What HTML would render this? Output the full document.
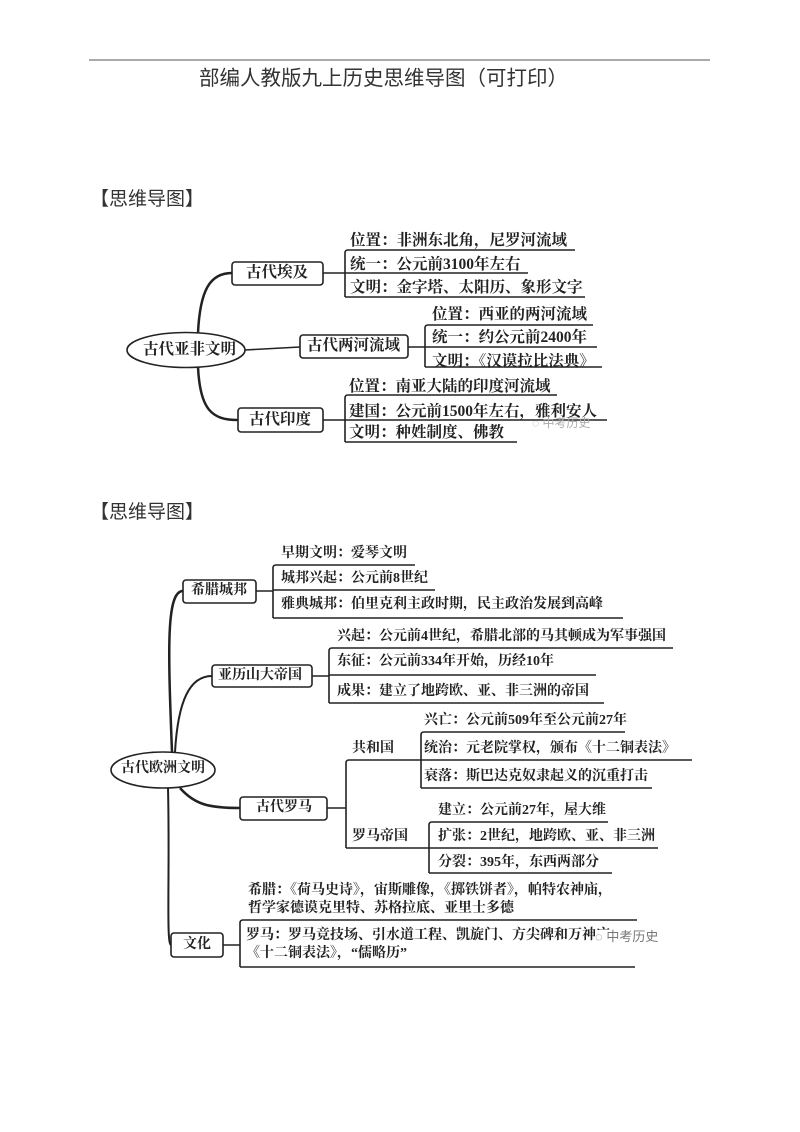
<!DOCTYPE html>
<html><head><meta charset="utf-8"><style>
body{margin:0;background:#fff;}
#p{position:relative;width:800px;height:1132px;overflow:hidden;font-family:"Liberation Serif","Noto Serif CJK SC",serif;color:#222;}
.t{position:absolute;white-space:nowrap;line-height:1;}
.a{font-size:15.5px;font-weight:bold;}
.b{font-size:14px;font-weight:bold;}
.h{font-family:"Liberation Sans","Noto Sans CJK SC",sans-serif;color:#333;}
svg{position:absolute;left:0;top:0;}
</style></head><body><div id="p">
<svg width="800" height="1132" fill="none" stroke="#222" stroke-width="1.6">
<line x1="89" y1="60" x2="710" y2="60" stroke="#555" stroke-width="1"/>
<ellipse cx="186" cy="350" rx="59" ry="17.5"/>
<rect x="232" y="262" width="91" height="23" rx="3"/>
<rect x="300" y="335" width="108" height="23" rx="3"/>
<rect x="238" y="408" width="85" height="24" rx="3"/>
<path d="M198 333 C200 290,210 273,232 273" stroke-width="2.5"/>
<path d="M198 367 C200 410,212 420,238 420" stroke-width="2.5"/>
<line x1="245" y1="350" x2="300" y2="347"/>
<line x1="323" y1="273" x2="345" y2="273"/>
<path d="M345 297 L345 253 Q345 250 348 250 L575 250"/>
<line x1="345" y1="273" x2="528" y2="273"/><line x1="345" y1="297" x2="585" y2="297"/>
<line x1="408" y1="347" x2="425" y2="347"/>
<path d="M425 367 L425 328 Q425 325 428 325 L593 325"/>
<line x1="425" y1="347" x2="597" y2="347"/><line x1="425" y1="367" x2="602" y2="367"/>
<line x1="323" y1="420" x2="345" y2="420"/>
<path d="M345 442 L345 398 Q345 395 348 395 L557 395"/>
<line x1="345" y1="420" x2="607" y2="420"/><line x1="345" y1="442" x2="517" y2="442"/>
<ellipse cx="163" cy="770" rx="52" ry="18"/>
<rect x="183" y="580" width="73" height="23" rx="3"/>
<rect x="212" y="665" width="100" height="22" rx="3"/>
<rect x="240" y="797" width="87" height="23" rx="3"/>
<rect x="171" y="933" width="52" height="24" rx="3"/>
<path d="M172 752 C168 650,166 591,183 591" stroke-width="2.5"/>
<path d="M175 752 C178 700,190 676,212 676" stroke-width="2"/>
<path d="M180 788 C195 805,210 808,240 808" stroke-width="2.5"/>
<path d="M168 788 C170 870,166 945,171 945" stroke-width="2"/>
<line x1="256" y1="591" x2="273" y2="591"/>
<path d="M273 618 L273 568 Q273 565 276 565 L415 565"/>
<line x1="273" y1="590" x2="435" y2="590"/><line x1="273" y1="618" x2="623" y2="618"/>
<line x1="312" y1="676" x2="329" y2="676"/>
<path d="M329 703 L329 651 Q329 648 332 648 L673 648"/>
<line x1="329" y1="675" x2="596" y2="675"/><line x1="329" y1="703" x2="604" y2="703"/>
<line x1="327" y1="808" x2="346" y2="808"/>
<path d="M346 848 L346 763 Q346 760 349 760 L692 760"/>
<line x1="346" y1="848" x2="429" y2="848"/>
<path d="M421 788 L421 735 Q421 732 424 732 L625 732"/>
<line x1="421" y1="788" x2="652" y2="788"/>
<path d="M429 873 L429 825 Q429 822 432 822 L608 822"/>
<line x1="429" y1="848" x2="658" y2="848"/><line x1="429" y1="873" x2="612" y2="873"/>
<line x1="223" y1="945" x2="240" y2="945"/>
<path d="M240 967 L240 923 Q240 920 243 920 L637 920"/>
<line x1="240" y1="967" x2="635" y2="967"/>
</svg>
<div class="t h" style="left:199px;top:69px;font-size:20.5px;">部编人教版九上历史思维导图（可打印）</div>
<div class="t h" style="left:90px;top:190px;font-size:19px;">【思维导图】</div>
<div class="t h" style="left:90px;top:503px;font-size:19px;">【思维导图】</div>

<div class="t a" style="left:143px;top:342px;">古代亚非文明</div>
<div class="t a" style="left:246px;top:265px;">古代埃及</div>
<div class="t a" style="left:307px;top:338px;">古代两河流域</div>
<div class="t a" style="left:249px;top:412px;">古代印度</div>
<div class="t a" style="left:350px;top:233px;">位置：非洲东北角，尼罗河流域</div>
<div class="t a" style="left:350px;top:257px;">统一：公元前3100年左右</div>
<div class="t a" style="left:350px;top:280px;">文明：金字塔、太阳历、象形文字</div>
<div class="t a" style="left:432px;top:307px;">位置：西亚的两河流域</div>
<div class="t a" style="left:432px;top:330px;">统一：约公元前2400年</div>
<div class="t a" style="left:432px;top:354px;">文明：《汉谟拉比法典》</div>
<div class="t a" style="left:349px;top:379px;">位置：南亚大陆的印度河流域</div>
<div class="t a" style="left:349px;top:404px;">建国：公元前1500年左右，雅利安人</div>
<div class="t a" style="left:349px;top:425px;">文明：种姓制度、佛教</div>
<div class="t h" style="left:532px;top:417px;font-size:12px;color:#aaa;">◌ 中考历史</div>

<div class="t b" style="left:121px;top:762px;">古代欧洲文明</div>
<div class="t b" style="left:191px;top:584px;">希腊城邦</div>
<div class="t b" style="left:218px;top:669px;">亚历山大帝国</div>
<div class="t b" style="left:256px;top:801px;">古代罗马</div>
<div class="t b" style="left:183px;top:938px;">文化</div>
<div class="t b" style="left:281px;top:547px;">早期文明：爱琴文明</div>
<div class="t b" style="left:281px;top:572px;">城邦兴起：公元前8世纪</div>
<div class="t b" style="left:281px;top:598px;">雅典城邦：伯里克利主政时期，民主政治发展到高峰</div>
<div class="t b" style="left:337px;top:630px;">兴起：公元前4世纪，希腊北部的马其顿成为军事强国</div>
<div class="t b" style="left:337px;top:655px;">东征：公元前334年开始，历经10年</div>
<div class="t b" style="left:337px;top:685px;">成果：建立了地跨欧、亚、非三洲的帝国</div>
<div class="t b" style="left:352px;top:742px;">共和国</div>
<div class="t b" style="left:352px;top:830px;">罗马帝国</div>
<div class="t b" style="left:424px;top:714px;">兴亡：公元前509年至公元前27年</div>
<div class="t b" style="left:424px;top:742px;">统治：元老院掌权，颁布《十二铜表法》</div>
<div class="t b" style="left:424px;top:770px;">衰落：斯巴达克奴隶起义的沉重打击</div>
<div class="t b" style="left:438px;top:804px;">建立：公元前27年，屋大维</div>
<div class="t b" style="left:438px;top:830px;">扩张：2世纪，地跨欧、亚、非三洲</div>
<div class="t b" style="left:438px;top:856px;">分裂：395年，东西两部分</div>
<div class="t b" style="left:248px;top:884px;">希腊：《荷马史诗》，宙斯雕像，《掷铁饼者》，帕特农神庙，</div>
<div class="t b" style="left:248px;top:902px;">哲学家德谟克里特、苏格拉底、亚里士多德</div>
<div class="t b" style="left:246px;top:929px;">罗马：罗马竞技场、引水道工程、凯旋门、方尖碑和万神庙、</div>
<div class="t b" style="left:246px;top:947px;">《十二铜表法》，“儒略历”</div>
<div class="t h" style="left:595px;top:930px;font-size:13px;color:#777;background:#fff;">◌ 中考历史</div>
</div></body></html>
